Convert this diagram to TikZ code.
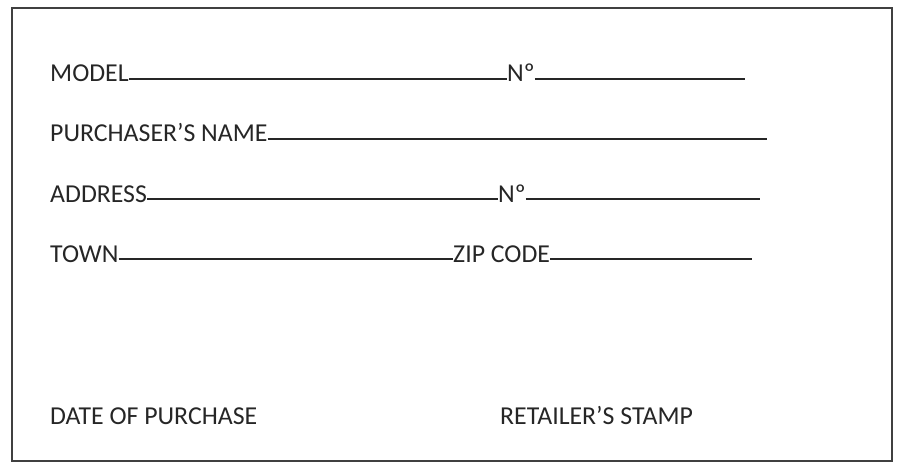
\documentclass[tikz,border=0pt]{standalone}
\usepackage{fontspec}
\setmainfont{Carlito}
\begin{document}
\begin{tikzpicture}[x=1pt,y=-1pt,
  lbl/.style={anchor=base west,inner sep=0pt,font=\fontsize{25.8}{29}\selectfont,text=black!85},
  fill/.style={draw=black!85,line width=1.1pt}]
\useasboundingbox (0,0) rectangle (904,465);
\draw[line width=1.2pt,draw=black!75] (12,8) rectangle (892,461);
\node[lbl] (m) at (50,82) {MODEL};
\node[lbl] (n1) at (507,82) {Nº};
\coordinate (e1) at (745,82);
\node[lbl] (p) at (50,142) {PURCHASER’S NAME};
\coordinate (e2) at (767,142);
\node[lbl] (a) at (50,202) {ADDRESS};
\node[lbl] (n2) at (498,202) {Nº};
\coordinate (e3) at (760,202);
\node[lbl] (t) at (50,262) {TOWN};
\node[lbl] (z) at (453,262) {ZIP CODE};
\coordinate (e4) at (752,262);
\node[lbl] (d) at (50,424) {DATE OF PURCHASE};
\node[lbl] (r) at (500,424) {RETAILER’S STAMP};
\foreach \s/\e in {m/n1.west,n1/e1,p/e2,a/n2.west,n2/e3,t/z.west,z/e4}
  \draw[fill] ([yshift=3pt]\s.base east) -- ([yshift=3pt]\s.base east -| \e);
\end{tikzpicture}
\end{document}
